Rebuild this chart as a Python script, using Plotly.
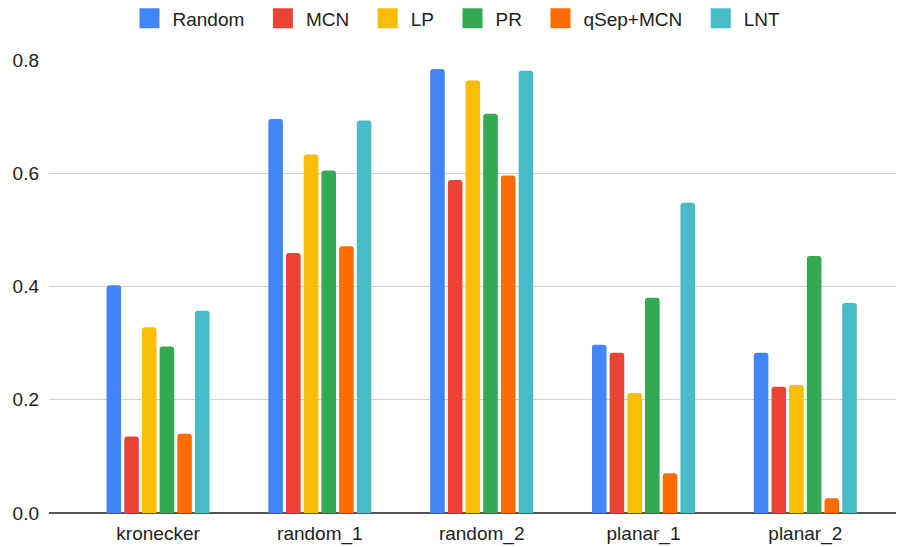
import plotly.graph_objects as go

categories = ["kronecker", "random_1", "random_2", "planar_1", "planar_2"]
series_names = ["Random", "MCN", "LP", "PR", "qSep+MCN", "LNT"]
random_vals = [0.402, 0.696, 0.784, 0.297, 0.283]
mcn_vals = [0.135, 0.459, 0.588, 0.283, 0.223]
lp_vals = [0.328, 0.633, 0.764, 0.212, 0.226]
pr_vals = [0.294, 0.605, 0.705, 0.380, 0.454]
qsep_vals = [0.140, 0.471, 0.596, 0.070, 0.026]
lnt_vals = [0.357, 0.693, 0.781, 0.548, 0.371]
colors = ["#4285F4", "#EA4335", "#FBBC04", "#34A853", "#FF6D01", "#46BDC6"]
y_ticks = [0.0, 0.2, 0.4, 0.6, 0.8]
y_tick_labels = ["0.0", "0.2", "0.4", "0.6", "0.8"]

all_vals = [random_vals, mcn_vals, lp_vals, pr_vals, qsep_vals, lnt_vals]
FONT = "Arial, Liberation Sans, sans-serif"
PAD = "\u00a0\u00a0"

fig = go.Figure()
for name, vals, col in zip(series_names, all_vals, colors):
    fig.add_trace(go.Bar(x=categories, y=vals, name=name, marker_color=col,
                         marker_line_width=0, showlegend=False, legendgroup=name))
for i, (name, col) in enumerate(zip(series_names, colors)):
    label = name + (PAD if i < len(series_names) - 1 else "")
    fig.add_trace(go.Scatter(x=[None], y=[None], mode="markers", name=label,
                             marker=dict(symbol="square", size=16, color=col,
                                         line=dict(width=4, color=col)),
                             legendgroup=name, showlegend=True))

# page body has an 8px default margin, so the figure sits at (8, 8)
fig.update_layout(
    width=896, height=539,
    margin=dict(l=41, r=0, t=52, b=34, autoexpand=False),
    paper_bgcolor="white", plot_bgcolor="white",
    barmode="group", bargap=0.344, bargroupgap=0.176,
    barcornerradius=3,
    font=dict(family=FONT, size=19, color="#222222"),
    legend=dict(orientation="h", xref="container", yref="container",
                x=0.5, xanchor="center", y=1 - 10.5 / 539, yanchor="middle",
                itemwidth=36,
                font=dict(size=19, color="#222222"), traceorder="normal"),
    xaxis=dict(type="category", range=[-0.674, 4.61], showgrid=False,
               showline=False, zeroline=False, ticks="", ticklabelstandoff=7),
    yaxis=dict(range=[0, 0.8], tickvals=y_ticks, ticktext=y_tick_labels,
               showgrid=True, gridcolor="#d0d0d0", gridwidth=1,
               zeroline=True, zerolinecolor="#555555", zerolinewidth=2,
               showline=False, ticks="", ticklabelstandoff=9),
)
fig.write_html("out.html")
